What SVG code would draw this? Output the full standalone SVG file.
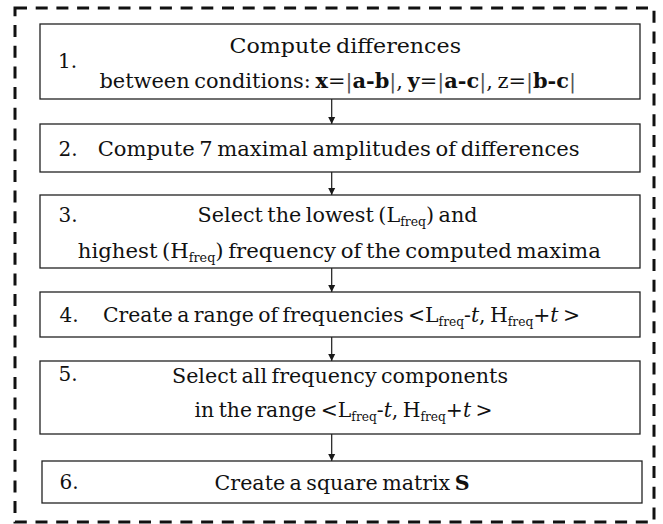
<svg xmlns="http://www.w3.org/2000/svg" width="663" height="524" viewBox="0 0 663 524">
<style>
.frame{fill:none;stroke:#111;stroke-width:3;stroke-dasharray:12 8.7}
.box{fill:#fff;stroke:#222;stroke-width:1.3}
text{font-family:"DejaVu Serif","Liberation Serif",serif;font-size:20px;fill:#111;word-spacing:-2px}
.num{font-size:20px}
.b{font-weight:bold}
.i{font-style:italic}
.sub{font-size:12px}
.bar{fill:#555}
.conn line{stroke:#1a1a1a;stroke-width:1.2}
</style>
<defs>
<marker id="ah" viewBox="0 0 10 10" refX="10" refY="5" markerWidth="7" markerHeight="8" markerUnits="userSpaceOnUse" orient="auto">
<path d="M0,0 L10,5 L0,10 Z" fill="#1a1a1a"/>
</marker>
</defs>
<rect class="frame" x="15" y="8" width="639" height="514"/>
<g class="conn">
<line x1="331.7" y1="99" x2="331.7" y2="124" marker-end="url(#ah)"/>
<line x1="331.7" y1="172" x2="331.7" y2="195" marker-end="url(#ah)"/>
<line x1="331.7" y1="268" x2="331.7" y2="292" marker-end="url(#ah)"/>
<line x1="331.7" y1="337" x2="331.7" y2="361" marker-end="url(#ah)"/>
<line x1="331.7" y1="434" x2="331.7" y2="461" marker-end="url(#ah)"/>
</g>
<g id="n1">
<rect class="box" x="40" y="24" width="600" height="75"/>
<text class="num" x="58" y="68">1.</text>
<text x="229.5" y="53.3" textLength="231.5" lengthAdjust="spacingAndGlyphs">Compute differences</text>
<text x="99.5" y="88" textLength="476.5" lengthAdjust="spacingAndGlyphs">between conditions: <tspan class="b">x</tspan>=<tspan class="bar">|</tspan><tspan class="b">a-b</tspan><tspan class="bar">|</tspan>, <tspan class="b">y</tspan>=<tspan class="bar">|</tspan><tspan class="b">a-c</tspan><tspan class="bar">|</tspan>, z=<tspan class="bar">|</tspan><tspan class="b">b-c</tspan><tspan class="bar">|</tspan></text>
</g>
<g id="n2">
<rect class="box" x="40" y="124" width="600" height="48"/>
<text class="num" x="58.6" y="156">2.</text>
<text x="97.7" y="156" textLength="482" lengthAdjust="spacingAndGlyphs">Compute 7 maximal amplitudes of differences</text>
</g>
<g id="n3">
<rect class="box" x="40" y="195" width="600" height="73"/>
<text class="num" x="58.6" y="221.7">3.</text>
<text x="197.6" y="221.7" textLength="280" lengthAdjust="spacingAndGlyphs">Select the lowest (L<tspan class="sub" dy="4">freq</tspan><tspan dy="-4">)  and</tspan></text>
<text x="77.8" y="258" textLength="523" lengthAdjust="spacingAndGlyphs">highest (H<tspan class="sub" dy="4">freq</tspan><tspan dy="-4">)  frequency of the computed maxima</tspan></text>
</g>
<g id="n4">
<rect class="box" x="40" y="292" width="600" height="45"/>
<text class="num" x="59.5" y="321.7">4.</text>
<text x="103" y="321.7" textLength="477" lengthAdjust="spacingAndGlyphs">Create a range of frequencies &lt;L<tspan class="sub" dy="4">freq</tspan><tspan dy="-4">-</tspan><tspan class="i">t</tspan>, H<tspan class="sub" dy="4">freq</tspan><tspan dy="-4">+</tspan><tspan class="i">t</tspan> &gt;</text>
</g>
<g id="n5">
<rect class="box" x="40" y="361" width="600" height="73"/>
<text class="num" x="58.6" y="381">5.</text>
<text x="172" y="382.7" textLength="336" lengthAdjust="spacingAndGlyphs">Select all frequency components</text>
<text x="194.6" y="416.7" textLength="298" lengthAdjust="spacingAndGlyphs">in the range &lt;L<tspan class="sub" dy="4">freq</tspan><tspan dy="-4">-</tspan><tspan class="i">t</tspan>, H<tspan class="sub" dy="4">freq</tspan><tspan dy="-4">+</tspan><tspan class="i">t</tspan> &gt;</text>
</g>
<g id="n6">
<rect class="box" x="42" y="461" width="600" height="42"/>
<text class="num" x="59.5" y="489">6.</text>
<text x="214.6" y="490" textLength="255" lengthAdjust="spacingAndGlyphs">Create a square matrix <tspan class="b">S</tspan></text>
</g>
</svg>
